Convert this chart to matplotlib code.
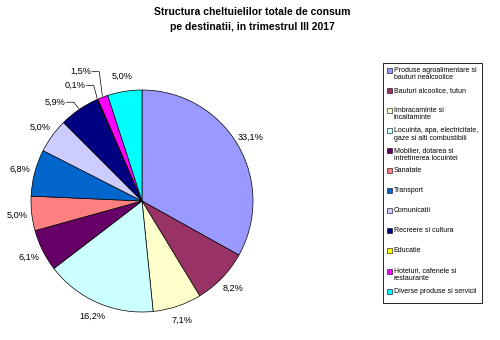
import numpy as np
import matplotlib
matplotlib.use("Agg")
import matplotlib.pyplot as plt
from matplotlib.patches import Rectangle

plt.rcParams['font.family'] = ['Liberation Sans', 'DejaVu Sans']

# structura cheltuielilor pe destinatii (%)
categories = [
    "Produse agroalimentare si\nbauturi nealcoolice",
    "Bauturi alcoolice, tutun",
    "Imbracaminte si\nincaltaminte",
    "Locuinta, apa, electricitate,\ngaze si alti combustibili",
    "Mobilier, dotarea si\nintretinerea locuintei",
    "Sanatate",
    "Transport",
    "Comunicatii",
    "Recreere si cultura",
    "Educatie",
    "Hoteluri, cafenele si\nrestaurante",
    "Diverse produse si servicii",
]
values = [33.1, 8.2, 7.1, 16.2, 6.1, 5.0, 6.8, 5.0, 5.9, 0.1, 1.5, 5.0]
colors = ["#9999FF", "#993366", "#FFFFCC", "#CCFFFF", "#660066", "#FF8080",
          "#0066CC", "#CCCCFF", "#000080", "#FFFF00", "#FF00FF", "#00FFFF"]
value_labels = [("%.1f%%" % v).replace(".", ",") for v in values]

W, H = 500, 340
cx, cy, R = 142, 201, 111  # pie centre / radius in pixels

fig = plt.figure(figsize=(5, 3.4), dpi=100)
ax = fig.add_axes([0, 0, 1, 1])

wedges, _ = ax.pie(values, colors=colors, startangle=90, counterclock=False,
                   radius=1.0, wedgeprops=dict(edgecolor='black', linewidth=0.5))

# pie() resets the limits, so set them afterwards
ax.set_xlim(-cx / R, (W - cx) / R)
ax.set_ylim(-(H - cy) / R, cy / R)
ax.set_aspect('equal')
ax.axis('off')

# percentage labels
small = {8: (-0.69, 0.89), 9: (-0.51, 1.04), 10: (-0.46, 1.165)}  # right end of text
for i, w in enumerate(wedges):
    ang = np.deg2rad((w.theta1 + w.theta2) / 2)
    ex, ey = np.cos(ang), np.sin(ang)
    if i in small:
        tx, ty = small[i]
        ax.text(tx, ty, value_labels[i], ha='right', va='center', fontsize=6.6)
        kx = tx + 0.075
        ax.plot([tx + 0.01, kx, ex * 1.01], [ty, ty, ey * 1.01],
                color='black', lw=0.5)
    else:
        d = 1.135
        ax.text(ex * d, ey * d, value_labels[i], ha='center', va='center',
                fontsize=6.6)

# title
fig.text(252 / W, 1 - 12 / H, "Structura cheltuielilor totale de consum",
         ha='center', va='center', fontsize=7.5, fontweight='bold')
fig.text(252 / W, 1 - 27 / H, "pe destinatii, in trimestrul III 2017",
         ha='center', va='center', fontsize=7.5, fontweight='bold')

# legend
lx0, ly0, lx1, ly1 = 383, 63, 482, 303
fig.patches.append(Rectangle((lx0 / W, 1 - ly1 / H), (lx1 - lx0) / W, (ly1 - ly0) / H,
                             transform=fig.transFigure, facecolor='white',
                             edgecolor='black', linewidth=0.6))
for i, lab in enumerate(categories):
    y = 70 + i * 20.1
    fig.patches.append(Rectangle((387 / W, 1 - (y + 2.5) / H), 5 / W, 5 / H,
                                 transform=fig.transFigure, facecolor=colors[i],
                                 edgecolor='black', linewidth=0.4))
    fig.text(393.5 / W, 1 - (y - 3.5) / H, lab, ha='left', va='top',
             fontsize=5.0, linespacing=1.15)

fig.savefig("out.png", dpi=100)
